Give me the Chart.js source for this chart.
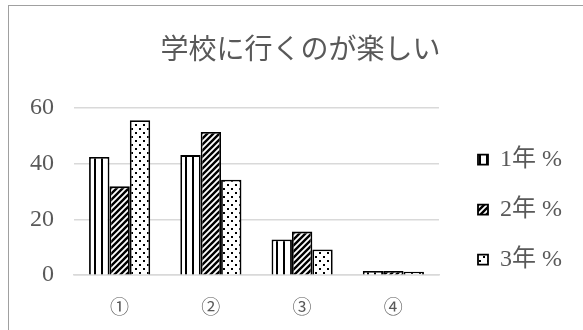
<!DOCTYPE html>
<html>
<head>
<meta charset="utf-8">
<script src="https://cdn.jsdelivr.net/npm/chart.js@4"></script>
<style>
  html, body { margin: 0; padding: 0; background: #fff; overflow: hidden; }
  #frame { position: absolute; left: 8px; top: 5px; width: 620px; height: 360px; border: 1.5px solid #a0a0a0; }
  #wrap { position: absolute; left: 10px; top: 7px; width: 581px; height: 323px; }
</style>
</head>
<body>
<div id="frame"></div>
<div id="wrap"><canvas id="chart"></canvas></div>
<script>
const categories = ['①', '②', '③', '④'];
const seriesNames = ['1年 %', '2年 %', '3年 %'];
const year1 = [42.3, 43.0, 12.8, 1.5];
const year2 = [31.8, 51.3, 15.6, 1.5];
const year3 = [55.5, 34.2, 9.2, 1.2];
const yTicks = [0, 20, 40, 60];

const textGray = '#595959';
const legendWidth = 139;

function makePattern(kind) {
  const c = document.createElement('canvas');
  const g = c.getContext('2d');
  if (kind === 'stripes') {
    c.width = 7; c.height = 7;
    g.fillStyle = '#fff'; g.fillRect(0, 0, 7, 7);
    g.fillStyle = '#000'; g.fillRect(0, 0, 2, 7);
  } else if (kind === 'hatch') {
    c.width = 6; c.height = 6;
    g.fillStyle = '#fff'; g.fillRect(0, 0, 6, 6);
    g.strokeStyle = '#000'; g.lineWidth = 2.4;
    g.beginPath();
    g.moveTo(0, 6); g.lineTo(6, 0);
    g.moveTo(-3, 3); g.lineTo(3, -3);
    g.moveTo(3, 9); g.lineTo(9, 3);
    g.stroke();
  } else {
    c.width = 8; c.height = 8;
    g.fillStyle = '#fff'; g.fillRect(0, 0, 8, 8);
    g.fillStyle = '#000';
    g.fillRect(1, 1, 2, 2);
    g.fillRect(5, 5, 2, 2);
  }
  return g.createPattern(c, 'repeat');
}

const fills = [makePattern('stripes'), makePattern('hatch'), makePattern('dots')];
const values = [year1, year2, year3];

// widen the legend box so the title stays centred on the full frame
const legendSpace = {
  id: 'legendSpace',
  beforeLayout(chart) {
    const lg = chart.legend;
    if (!lg || lg._wide) return;
    const fit = lg.fit;
    lg.fit = function () {
      fit.call(this);
      this.width = Math.max(this.width, legendWidth);
    };
    lg._wide = true;
  }
};

const ctx = document.getElementById('chart').getContext('2d');
new Chart(ctx, {
  type: 'bar',
  data: {
    labels: categories,
    datasets: seriesNames.map((name, i) => ({
      label: name,
      data: values[i],
      backgroundColor: fills[i],
      borderColor: '#000',
      borderWidth: 1.8,
      barPercentage: 1,
      categoryPercentage: 0.67
    }))
  },
  options: {
    responsive: true,
    maintainAspectRatio: false,
    animation: false,
    layout: { padding: { left: 0, right: 0, top: 0, bottom: 0 } },
    plugins: {
      title: {
        display: true,
        text: '学校に行くのが楽しい',
        color: textGray,
        font: { family: '"Noto Sans CJK JP", sans-serif', size: 28, weight: 'normal' },
        padding: { top: 25, bottom: 42 }
      },
      legend: {
        position: 'right',
        title: { display: true, text: '', font: { size: 12 }, padding: { top: 68, bottom: 0 } },
        labels: {
          color: textGray,
          font: { family: '"Liberation Serif", "Noto Sans CJK JP", serif', size: 24 },
          boxWidth: 10,
          boxHeight: 10,
          padding: 26
        }
      },
      tooltip: { enabled: false }
    },
    scales: {
      x: {
        grid: { display: false },
        border: { color: '#d9d9d9', width: 1.5 },
        ticks: {
          color: textGray,
          font: { family: '"Noto Sans CJK JP", sans-serif', size: 19 },
          padding: 12
        }
      },
      y: {
        min: 0,
        max: 60,
        afterBuildTicks: s => { s.ticks = yTicks.map(v => ({ value: v })); },
        grid: { color: '#d9d9d9', lineWidth: 1.5, drawTicks: false },
        border: { display: false },
        ticks: {
          color: textGray,
          font: { family: '"Liberation Serif", serif', size: 24 },
          padding: 20
        }
      },
      gap: {
        type: 'linear',
        position: 'right',
        grid: { display: false },
        border: { display: false },
        ticks: { display: false },
        afterFit: s => { s.width = 13; }
      }
    }
  },
  plugins: [legendSpace]
});
</script>
</body>
</html>
